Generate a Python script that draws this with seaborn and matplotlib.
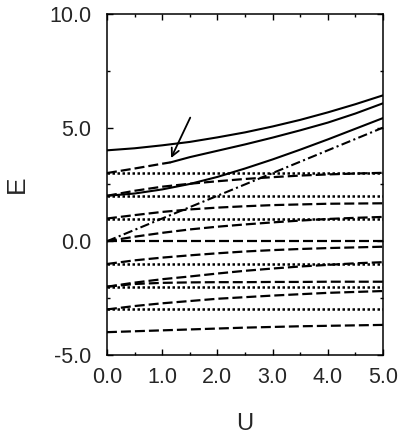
import numpy as np
import pandas as pd
import matplotlib
matplotlib.use("Agg")
import matplotlib.pyplot as plt
import seaborn as sns
from matplotlib.ticker import MultipleLocator, FormatStrFormatter

# U grid used for the curved levels
u = [0.0, 0.5, 1.0, 1.5, 2.0, 2.5, 3.0, 3.5, 4.0, 4.5, 5.0]

# solid levels
top_solid = [4.00, 4.09, 4.22, 4.37, 4.57, 4.79, 5.05, 5.34, 5.67, 6.03, 6.42]
mid_solid = [2.00, 2.10, 2.28, 2.52, 2.83, 3.20, 3.60, 4.03, 4.48, 4.95, 5.42]
# level starting at 3: dashed up to the arrow, solid after
u_b_dash = [0.0, 0.5, 1.0, 1.15]
b_dash = [3.00, 3.20, 3.41, 3.47]
u_b_solid = [1.15, 1.5, 2.0, 2.5, 3.0, 3.5, 4.0, 4.5, 5.0]
b_solid = [3.47, 3.70, 3.98, 4.26, 4.56, 4.88, 5.22, 5.62, 6.07]

# dash-dot level E = U
u_line = [0.0, 5.0]
dashdot = [0.0, 5.0]

# dashed levels
dashed = {
    "d2":  [2.00, 2.22, 2.40, 2.53, 2.64, 2.74, 2.82, 2.89, 2.94, 2.98, 3.01],
    "d1":  [1.00, 1.15, 1.29, 1.40, 1.48, 1.54, 1.59, 1.62, 1.65, 1.66, 1.67],
    "d0":  [0.00, 0.20, 0.37, 0.52, 0.64, 0.74, 0.83, 0.91, 0.98, 1.03, 1.07],
    "d0f": [0.00, 0.00, 0.00, 0.00, 0.00, 0.00, 0.00, 0.00, 0.00, 0.00, 0.00],
    "dm1": [-1.00, -0.84, -0.72, -0.62, -0.53, -0.45, -0.39, -0.34, -0.30, -0.27, -0.24],
    "dm2": [-2.00, -1.82, -1.67, -1.55, -1.42, -1.30, -1.20, -1.11, -1.04, -0.97, -0.92],
    "dm2f": [-2.00, -1.88, -1.83, -1.81, -1.80, -1.80, -1.79, -1.79, -1.78, -1.78, -1.78],
    "dm3": [-3.00, -2.85, -2.73, -2.63, -2.53, -2.46, -2.39, -2.33, -2.27, -2.23, -2.19],
    "dm4": [-4.00, -3.96, -3.92, -3.88, -3.84, -3.80, -3.77, -3.74, -3.72, -3.70, -3.68],
}

# flat dotted levels
dotted_levels = [3.0, 2.0, 1.0, -1.0, -2.0, -3.0]

rows = []
def add(name, kind, xs, ys):
    for x, y in zip(xs, ys):
        rows.append({"curve": name, "kind": kind, "U": x, "E": y})

add("top", "solid", u, top_solid)
add("mid", "solid", u, mid_solid)
add("b_dash", "dashed", u_b_dash, b_dash)
add("b_solid", "solid", u_b_solid, b_solid)
add("diag", "dashdot", u_line, dashdot)
for k, v in dashed.items():
    add(k, "dashed", u, v)
for i, lev in enumerate(dotted_levels):
    add("dot%d" % i, "dotted", u_line, [lev, lev])

df = pd.DataFrame(rows)

sns.set_style("ticks")
plt.rcParams["font.family"] = ["Liberation Sans", "DejaVu Sans"]
plt.rcParams["axes.unicode_minus"] = False

fig = plt.figure(figsize=(3.99, 4.36), dpi=100)
ax = fig.add_axes([0.268, 0.186, 0.692, 0.782])

sns.lineplot(data=df, x="U", y="E", units="curve", style="kind", size="kind",
             estimator=None,
             dashes={"solid": "", "dashed": (4.5, 1.8), "dotted": (1, 1),
                     "dashdot": (4.5, 1.6, 1, 1.6)},
             sizes={"solid": 1.5, "dashed": 1.6, "dotted": 1.8, "dashdot": 1.5},
             color="black", sort=False, legend=False, ax=ax)

ax.annotate("", xy=(1.14, 3.55), xytext=(1.53, 5.55),
            arrowprops=dict(arrowstyle="->", lw=1.3, color="black",
                            mutation_scale=14))

ax.set_xlim(0, 5)
ax.set_ylim(-5, 10)
ax.xaxis.set_major_locator(MultipleLocator(1))
ax.xaxis.set_minor_locator(MultipleLocator(0.5))
ax.yaxis.set_major_locator(MultipleLocator(5))
ax.yaxis.set_minor_locator(MultipleLocator(2.5))
ax.xaxis.set_major_formatter(FormatStrFormatter("%.1f"))
ax.yaxis.set_major_formatter(FormatStrFormatter("%.1f"))
ax.tick_params(which="both", direction="in", top=True, right=True,
               color="black", width=1.0, labelsize=15.5)
ax.tick_params(which="major", length=4)
ax.tick_params(which="minor", length=2.5)
ax.tick_params(axis="y", pad=11)
ax.tick_params(axis="x", pad=9)
for s in ax.spines.values():
    s.set_visible(True)
    s.set_linewidth(1.1)
    s.set_color("black")

ax.set_xlabel("U", fontsize=17, labelpad=18)
ax.set_ylabel("E", fontsize=19, labelpad=15)

plt.savefig("out.png", dpi=100)
